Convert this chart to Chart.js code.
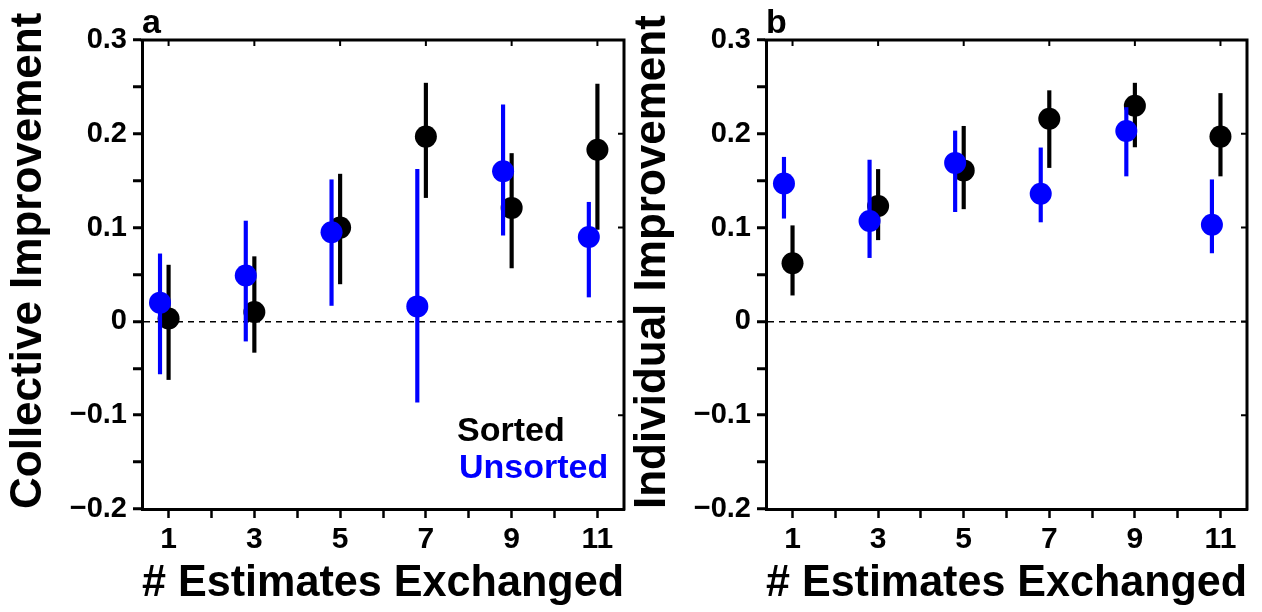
<!DOCTYPE html>
<html>
<head>
<meta charset="utf-8">
<script src="https://cdn.jsdelivr.net/npm/chart.js@4"></script>
<style>
  body { margin: 0; background: #fff; }
  canvas { position: absolute; top: 0; }
</style>
</head>
<body>
<canvas id="panelA" width="640" height="612" style="left:0"></canvas>
<canvas id="panelB" width="638" height="612" style="left:624px"></canvas>
<script>
const exchanged = [1, 3, 5, 7, 9, 11];
const xTickLabels = ['1', '3', '5', '7', '9', '11'];
const yTickValues = [-0.2, -0.1, 0, 0.1, 0.2, 0.3];
const yTickLabels = ['\u22120.2', '\u22120.1', '0', '0.1', '0.2', '0.3'];
const seriesNames = ['Sorted', 'Unsorted'];

// panel a - collective improvement
const sortedCollective   = [0.003, 0.010, 0.100, 0.197, 0.121, 0.183];
const sortedCollectiveLo = [-0.062, -0.033, 0.040, 0.132, 0.057, 0.098];
const sortedCollectiveHi = [0.060, 0.069, 0.157, 0.254, 0.179, 0.253];
const unsortedCollective   = [0.020, 0.049, 0.095, 0.016, 0.160, 0.090];
const unsortedCollectiveLo = [-0.056, -0.021, 0.017, -0.086, 0.092, 0.026];
const unsortedCollectiveHi = [0.072, 0.107, 0.151, 0.162, 0.231, 0.127];

// panel b - individual improvement
const sortedIndividual   = [0.062, 0.123, 0.161, 0.216, 0.230, 0.197];
const sortedIndividualLo = [0.028, 0.087, 0.120, 0.164, 0.186, 0.155];
const sortedIndividualHi = [0.102, 0.162, 0.208, 0.246, 0.254, 0.243];
const unsortedIndividual   = [0.147, 0.107, 0.169, 0.136, 0.203, 0.103];
const unsortedIndividualLo = [0.110, 0.068, 0.117, 0.106, 0.155, 0.073];
const unsortedIndividualHi = [0.175, 0.172, 0.203, 0.185, 0.228, 0.151];

const BLACK = '#000000';
const BLUE = '#0000ff';
const FONT = '"Liberation Sans", Arial, Helvetica, sans-serif';
Chart.defaults.font.family = FONT;
Chart.defaults.color = '#000';

// frame on top/right, inward ticks, panel letter and the text legend
const framePlugin = {
  id: 'frame',
  afterDraw(chart, args, opts) {
    const { ctx, chartArea: { left, right, top, bottom }, scales: { x, y } } = chart;
    ctx.save();
    ctx.strokeStyle = '#000';
    ctx.lineWidth = 3;
    ctx.beginPath();
    ctx.moveTo(left - 1.5, top);
    ctx.lineTo(right, top);
    ctx.lineTo(right, bottom + 1.5);
    ctx.stroke();

    ctx.lineWidth = 2;
    ctx.beginPath();
    exchanged.forEach(v => {
      const px = x.getPixelForValue(v);
      ctx.moveTo(px, top);
      ctx.lineTo(px, top + 6);
    });
    yTickValues.forEach(v => {
      const py = y.getPixelForValue(v);
      ctx.moveTo(right, py);
      ctx.lineTo(right - 6, py);
    });
    ctx.stroke();

    ctx.fillStyle = '#000';
    ctx.textBaseline = 'alphabetic';
    ctx.textAlign = 'left';
    ctx.font = 'bold 34px ' + FONT;
    ctx.fillText(opts.letter, left, top - 7);

    if (opts.legend) {
      ctx.font = 'bold 34px ' + FONT;
      ctx.fillStyle = BLACK;
      ctx.fillText(seriesNames[0], left + 315, bottom - 68);
      ctx.fillStyle = BLUE;
      ctx.fillText(seriesNames[1], left + 317, bottom - 31);
    }
    ctx.restore();
  }
};

function points(vals, dodge) {
  return vals.map((v, i) => ({ x: exchanged[i] + dodge, y: v }));
}
function bars(lo, hi, dodge) {
  return lo.map((v, i) => ({ x: exchanged[i] + dodge, y: [v, hi[i]] }));
}
function xLabel(v) {
  const i = exchanged.indexOf(v);
  return i < 0 ? '' : xTickLabels[i];
}
function yLabel(v) {
  const i = yTickValues.findIndex(t => Math.abs(t - v) < 1e-9);
  return i < 0 ? '' : yTickLabels[i];
}

function buildPanel(id, yTitle, letter, legend, padRight, s, sLo, sHi, u, uLo, uHi) {
  return new Chart(document.getElementById(id), {
    type: 'scatter',
    data: {
      datasets: [
        { type: 'scatter', label: seriesNames[1], data: points(u, -0.2), backgroundColor: BLUE,
          borderWidth: 0, radius: 11, hoverRadius: 11, order: 0 },
        { type: 'bar', data: bars(uLo, uHi, -0.2), backgroundColor: BLUE, barThickness: 3.5,
          grouped: false, borderWidth: 0, order: 1 },
        { type: 'scatter', label: seriesNames[0], data: points(s, 0), backgroundColor: BLACK,
          borderWidth: 0, radius: 11, hoverRadius: 11, order: 2 },
        { type: 'bar', data: bars(sLo, sHi, 0), backgroundColor: BLACK, barThickness: 3.5,
          grouped: false, borderWidth: 0, order: 3 }
      ]
    },
    options: {
      responsive: false,
      animation: false,
      devicePixelRatio: 1,
      events: [],
      layout: { padding: { top: 40, right: padRight, bottom: 0, left: 0 } },
      plugins: {
        legend: { display: false },
        tooltip: { enabled: false },
        frame: { letter: letter, legend: legend }
      },
      scales: {
        x: {
          type: 'linear',
          min: 0.38,
          max: 11.62,
          offset: false,
          afterFit: sc => { sc.height = 103; },
          ticks: {
            stepSize: 1, includeBounds: false, autoSkip: false,
            maxRotation: 0, minRotation: 0, padding: 4,
            color: '#000', font: { size: 30, weight: 'bold' },
            callback: xLabel
          },
          grid: { offset: false, drawOnChartArea: false, tickLength: 9, tickWidth: 2.5, tickColor: '#000' },
          border: { display: true, color: '#000', width: 3 },
          title: {
            display: true, text: '# Estimates Exchanged', align: 'end',
            color: '#000', font: { size: 45, weight: 'bold' },
            padding: { top: 0, bottom: 1 }
          }
        },
        y: {
          type: 'linear',
          min: -0.2,
          max: 0.3,
          afterFit: sc => { sc.width = 142; },
          ticks: {
            stepSize: 0.05, autoSkip: false, padding: 6,
            color: '#000', font: { size: 29, weight: 'bold' },
            callback: yLabel
          },
          grid: {
            drawOnChartArea: true,
            color: c => (c.tick && Math.abs(c.tick.value) < 1e-9) ? '#000' : 'rgba(0,0,0,0)',
            lineWidth: 1.5,
            tickLength: 9, tickWidth: 3, tickColor: '#000'
          },
          border: { display: true, color: '#000', width: 3, dash: [6, 5] },
          title: {
            display: true, text: yTitle, align: 'start',
            color: '#000', font: { size: 44, weight: 'bold' },
            padding: { top: 2, bottom: 0 }
          }
        }
      }
    },
    plugins: [framePlugin]
  });
}

buildPanel('panelA', 'Collective Improvement', 'a', true, 16,
  sortedCollective, sortedCollectiveLo, sortedCollectiveHi,
  unsortedCollective, unsortedCollectiveLo, unsortedCollectiveHi);

buildPanel('panelB', 'Individual Improvement', 'b', false, 15,
  sortedIndividual, sortedIndividualLo, sortedIndividualHi,
  unsortedIndividual, unsortedIndividualLo, unsortedIndividualHi);
</script>
</body>
</html>
